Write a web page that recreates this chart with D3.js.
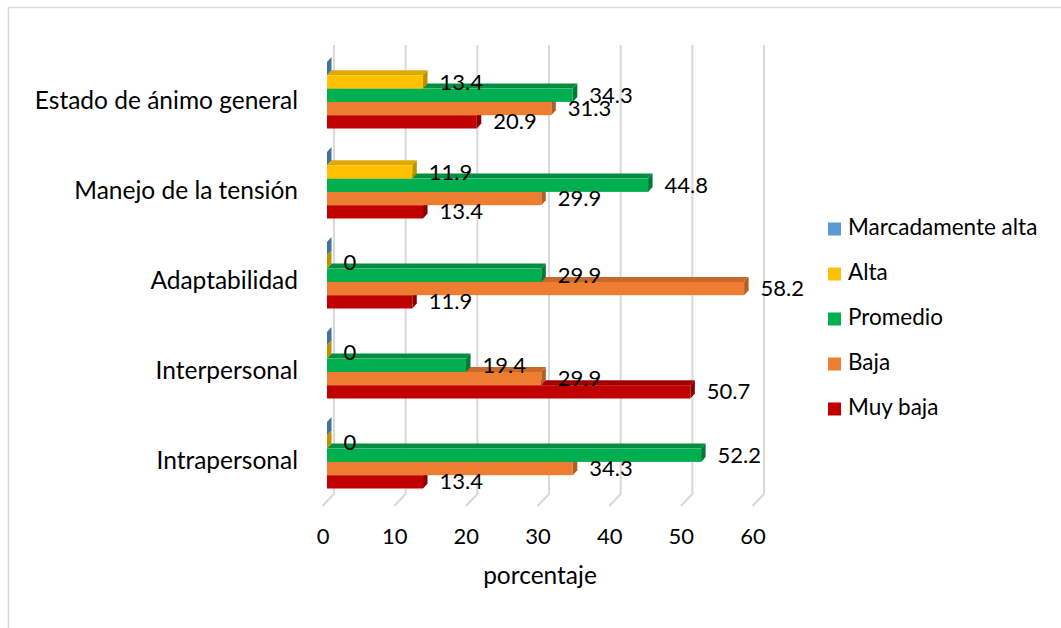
<!DOCTYPE html>
<html>
<head>
<meta charset="utf-8">
<script src="https://cdn.jsdelivr.net/npm/d3@7"></script>
<style>
  html, body { margin: 0; padding: 0; background: #fff; }
  svg { display: block; font-family: Lato, "Noto Sans", sans-serif; }
</style>
</head>
<body>
<svg id="chart" width="1061" height="628"></svg>
<script>
// Categories, top to bottom
const categories = [
  "Estado de ánimo general",
  "Manejo de la tensión",
  "Adaptabilidad",
  "Interpersonal",
  "Intrapersonal"
];

// Series, in the order they are stacked inside each group (top to bottom)
const seriesNames = ["Marcadamente alta", "Alta", "Promedio", "Baja", "Muy baja"];

// Percentages per category, one array per series
const marcadamenteAlta = [0, 0, 0, 0, 0];
const alta            = [13.4, 11.9, 0, 0, 0];
const promedio        = [34.3, 44.8, 29.9, 19.4, 52.2];
const baja            = [31.3, 29.9, 58.2, 29.9, 34.3];
const muyBaja         = [20.9, 13.4, 11.9, 50.7, 13.4];

// Which series print their value next to the bar
const showLabel = [false, true, true, true, true];

const tickValues = [0, 10, 20, 30, 40, 50, 60];
const axisTitle = "porcentaje";

const seriesValues = [marcadamenteAlta, alta, promedio, baja, muyBaja];

// Face colours: front, top, side
const palette = [
  { front: "#5b9bd5", top: "#4a86bf", side: "#41719c" },
  { front: "#ffc000", top: "#e0a800", side: "#bf9000" },
  { front: "#00b050", top: "#008f40", side: "#007a35" },
  { front: "#ed7d31", top: "#c8682a", side: "#b35d22" },
  { front: "#c00000", top: "#a00000", side: "#8a0000" }
];

const svg = d3.select("#chart");

// Chart frame
svg.append("rect")
  .attr("x", 8.5).attr("y", 7.5)
  .attr("width", 1100).attr("height", 700)
  .attr("fill", "none").attr("stroke", "#d9d9d9").attr("stroke-width", 1.5);

// Scales
const x = d3.scaleLinear().domain([0, 60]).range([327, 757]);
const y = d3.scaleBand().domain(categories).range([58, 508]);
const barH = 13.3;
const inner = d3.scaleBand().domain(seriesNames)
  .range([0, barH * seriesNames.length]);
const groupOffset = 4;

// 3D depth vector for bars, and wall / floor offsets for the grid
const depth = { dx: 4.5, dy: -5 };
const wallDx = 7, floorDx = -4.5;
const wallTop = 45, wallBottom = 494, floorFront = 506;

// Gridlines: back wall verticals plus the slanted floor segment
const grid = svg.append("g").attr("fill", "none")
  .attr("stroke", "#d9d9d9").attr("stroke-width", 2);
tickValues.forEach(t => {
  const xb = x(t) + wallDx, xf = x(t) + floorDx;
  grid.append("path")
    .attr("d", `M${xb},${wallTop}L${xb},${wallBottom}L${xf},${floorFront}`);
});

// Bars: draw from the bottom of each group upwards so that upper bars
// cover the top faces of the bars beneath them
const bars = svg.append("g");
categories.forEach((cat, ci) => {
  for (let si = seriesNames.length - 1; si >= 0; si--) {
    const v = seriesValues[si][ci];
    const c = palette[si];
    const x0 = x(0), x1 = x(v);
    const y0 = y(cat) + groupOffset + inner(seriesNames[si]);
    const y1 = y0 + barH;
    const { dx, dy } = depth;
    const g = bars.append("g");
    // top face
    g.append("path")
      .attr("d", `M${x0},${y0}L${x0 + dx},${y0 + dy}L${x1 + dx},${y0 + dy}L${x1},${y0}Z`)
      .attr("fill", c.top);
    // right side face
    g.append("path")
      .attr("d", `M${x1},${y0}L${x1 + dx},${y0 + dy}L${x1 + dx},${y1 + dy}L${x1},${y1}Z`)
      .attr("fill", c.side);
    // front face
    if (v > 0) {
      g.append("rect")
        .attr("x", x0).attr("y", y0)
        .attr("width", x1 - x0).attr("height", barH)
        .attr("fill", c.front);
    }
  }
});

// Value labels
const labels = svg.append("g")
  .attr("font-size", 22).attr("fill", "#000");
categories.forEach((cat, ci) => {
  seriesNames.forEach((s, si) => {
    if (!showLabel[si]) return;
    const v = seriesValues[si][ci];
    const yc = y(cat) + groupOffset + inner(s) + barH / 2;
    labels.append("text")
      .attr("x", x(v) + depth.dx + 12)
      .attr("y", yc + 2)
      .attr("dominant-baseline", "middle")
      .text(v);
  });
});

// Category labels
svg.append("g").attr("font-size", 24.5).attr("fill", "#000")
  .selectAll("text").data(categories).join("text")
  .attr("x", 298)
  .attr("y", d => y(d) + y.bandwidth() / 2)
  .attr("text-anchor", "end")
  .attr("dominant-baseline", "middle")
  .text(d => d);

// Value axis tick labels, along the front edge of the floor
const axis = d3.axisBottom(d3.scaleLinear().domain([0, 60])
    .range([x(0) + floorDx, x(60) + floorDx]))
  .tickValues(tickValues).tickSize(0).tickPadding(0);
const axisG = svg.append("g").attr("transform", "translate(0,528)").call(axis);
axisG.select(".domain").remove();
axisG.selectAll("text")
  .attr("font-size", 22).attr("fill", "#000")
  .attr("font-family", "Lato, 'Noto Sans', sans-serif");

// Axis title
svg.append("text")
  .attr("x", 540).attr("y", 578)
  .attr("text-anchor", "middle").attr("dominant-baseline", "middle")
  .attr("font-size", 24.5).attr("fill", "#000")
  .text(axisTitle);

// Legend
const legend = svg.append("g").attr("transform", "translate(828,229)");
seriesNames.forEach((s, i) => {
  const row = legend.append("g").attr("transform", `translate(0,${i * 45})`);
  row.append("rect").attr("x", 0).attr("y", -6.5)
    .attr("width", 13).attr("height", 13).attr("fill", palette[i].front);
  row.append("text").attr("x", 20).attr("y", 0)
    .attr("dominant-baseline", "middle")
    .attr("font-size", 22.5).attr("fill", "#000")
    .text(s);
});
</script>
</body>
</html>
